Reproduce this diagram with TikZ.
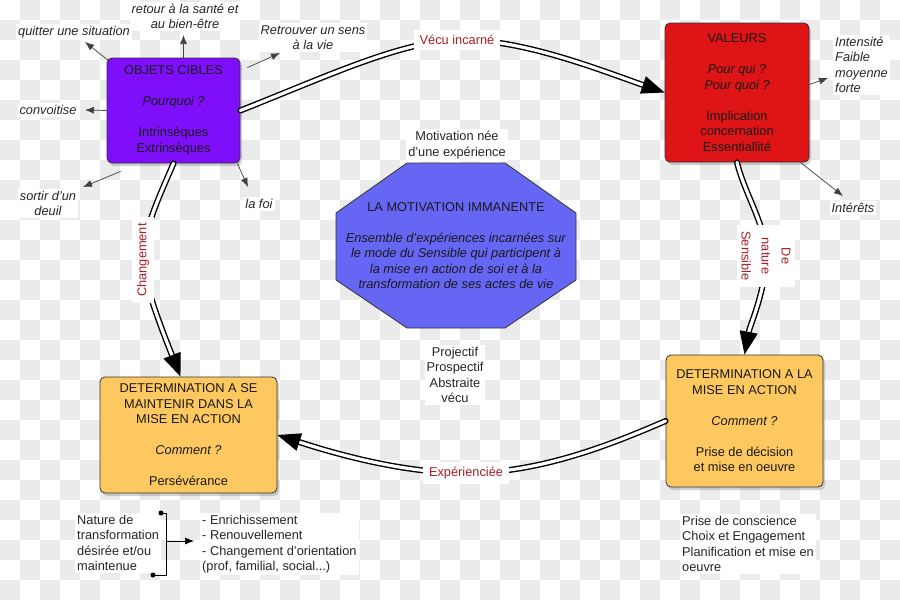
\documentclass[tikz,border=0pt]{standalone}
\usepackage{fontspec}
\setmainfont{Liberation Sans}
\usetikzlibrary{arrows.meta,calc,shadows}
\definecolor{violetbox}{RGB}{127,15,250}
\definecolor{redbox}{RGB}{222,20,22}
\definecolor{orangebox}{RGB}{254,200,96}
\definecolor{octblue}{RGB}{102,102,245}
\definecolor{labred}{RGB}{170,30,40}
\definecolor{checker}{RGB}{235,235,235}
\tikzset{
  fs/.style={font=\fontsize{12.8}{15.5}\selectfont},
  box/.style={draw=black!80, line width=0.8pt, rounded corners=5pt, align=center, fs, text=black!90,
    drop shadow={shadow xshift=2pt,shadow yshift=-3pt,opacity=0.35}},
  lbl/.style={fill=white, inner sep=2pt, align=center, fs, text=black!85},
  ital/.style={lbl, font=\fontsize{12.8}{15.5}\selectfont\itshape},
  dbl/.style={draw=black, line width=1.4pt, double=white, double distance=3.2pt, line cap=round},
  dbltip/.style={dbl, -{Triangle[length=23pt,width=18pt]}},
  thinarrow/.style={draw=black!75, line width=0.7pt, -{Latex[length=9pt,width=7pt]}},
  clab/.style={fill=white, fs, text=labred, inner xsep=6pt, inner ysep=5pt, align=center},
  dot/.style={circle, fill=black, inner sep=0pt, minimum size=5pt},
  brk/.style={draw=black, line width=1pt}
}
\begin{document}
\begin{tikzpicture}[x=1pt,y=-1pt]
\useasboundingbox (0,0) rectangle (900,600);
\fill[white] (0,0) rectangle (900,600);
% checkerboard background
\foreach \j in {0,...,29}{
  \pgfmathtruncatemacro\st{mod(\j+1,2)}
  \pgfmathtruncatemacro\stt{\st+2}
  \foreach \i in {\st,\stt,...,44}{
    \fill[checker] (\i*20,\j*20) rectangle ++(20,20);
  }
}
% boxes
\node[box, fill=violetbox, minimum width=133pt, minimum height=105pt] (obj) at (173.5,110.5)
  {OBJETS CIBLES\\[15.5pt]\textit{Pourquoi ?}\\[15.5pt]Intrinsèques\\Extrinsèques};
\node[box, fill=redbox, minimum width=144pt, minimum height=139pt] (val) at (737,92.5)
  {VALEURS\\[15.5pt]\textit{Pour qui ?}\\\textit{Pour quoi ?}\\[15.5pt]Implication\\concernation\\Essentiallité};
\node[box, fill=orangebox, minimum width=177pt, minimum height=116pt] (lbox) at (188.5,435)
  {DETERMINATION A SE\\MAINTENIR DANS LA\\MISE EN ACTION\\[15.5pt]\textit{Comment ?}\\[15.5pt]Persévérance};
\node[box, fill=orangebox, minimum width=157pt, minimum height=132pt] (rbox) at (744.5,421)
  {DETERMINATION A LA\\MISE EN ACTION\\[15.5pt]\textit{Comment ?}\\[15.5pt]Prise de décision\\et mise en oeuvre};
% octagon
\draw[fill=octblue, draw=black!80, line width=0.8pt]
  (407,163) -- (505,163) -- (576,213) -- (576,280) -- (505,328) -- (407,328) -- (336,280) -- (336,213) -- cycle;
\node[align=center, fs, text=black!90] (oct) at (456,245.5)
  {LA MOTIVATION IMMANENTE\\[15.5pt]\textit{Ensemble d'expériences incarnées sur}\\\textit{le mode du Sensible qui participent à}\\\textit{la mise en action de soi et à la}\\\textit{transformation de ses actes de vie}};
\node[lbl] (motiv) at (457,145) {Motivation née\\d'une expérience};
\node[lbl] (proj) at (455,375) {Projectif\\Prospectif\\Abstraite\\vécu};
% main connectors
\coordinate (vc1) at (457,40);
\coordinate (vc2) at (766,256);
\coordinate (vc3) at (466,473);
\coordinate (vc4) at (143,260);
\draw[dbltip] (obj.east) .. controls (330,75) and (400,42) .. (vc1) .. controls (520,38) and (600,70) .. (val.west);
\draw[dbltip] (val.south) .. controls (745,195) and (766,225) .. (vc2) .. controls (766,290) and (750,325) .. (rbox.north);
\draw[dbltip] (rbox.west) .. controls (610,445) and (540,473) .. (vc3) .. controls (400,473) and (330,452) .. (lbox.east);
\draw[dbltip] (obj.south) .. controls (160,195) and (143,230) .. (vc4) .. controls (143,280) and (160,325) .. ($(lbox.north)+(-8,0)$);
\node[clab] (vecu) at (vc1) {Vécu incarné};
\node[clab, rotate=-90] (nat) at (vc2) {De\\[4.5pt]nature\\[4.5pt]Sensible};
\node[clab] (exp) at (vc3) {Expérienciée};
\node[clab, rotate=90] (chg) at (vc4) {Changement};
% labels around OBJETS CIBLES
\node[ital] (quit) at (74,32) {quitter une situation};
\node[ital] (sante) at (185,16.5) {retour à la santé et\\au bien-être};
\node[ital] (sens) at (313,37.5) {Retrouver un sens\\à la vie};
\node[ital] (conv) at (48,110) {convoitise};
\node[ital] (deuil) at (48,203.5) {sortir d'un\\deuil};
\node[ital] (foi) at (259,204) {la foi};
\coordinate (q1) at (85,42);
\coordinate (q2) at (183.5,35);
\coordinate (q3) at (280,53);
\coordinate (q4) at (85,110);
\coordinate (q5) at (83,187);
\coordinate (q6) at (248,187);
\draw[thinarrow] ($(obj.north west)+(2,3)$) -- (q1);
\draw[thinarrow] ($(obj.north)+(10,0)$) -- (q2);
\draw[thinarrow] ($(obj.north east)+(7,10)$) -- (q3);
\draw[thinarrow] (obj.west) -- (q4);
\draw[thinarrow] ($(obj.south west)+(14,8)$) -- (q5);
\draw[thinarrow] ($(obj.south east)+(-3,0)$) -- (q6);
% labels around VALEURS
\node[ital, align=left, anchor=west] (intens) at (833,65) {Intensité\\Faible\\moyenne\\forte};
\node[ital] (inter) at (853,208) {Intérêts};
\coordinate (q7) at (828,78);
\coordinate (q8) at (843,196);
\draw[thinarrow] ($(val.east)+(0,-8)$) -- (q7);
\draw[thinarrow] ($(val.south east)+(-9,0)$) -- (q8);
% bottom annotations
\node[lbl, align=left, anchor=west] (nature) at (75,543) {Nature de\\transformation\\désirée et/ou\\maintenue};
\node[lbl, align=left, anchor=west] (lst) at (200,544) {- Enrichissement\\- Renouvellement\\- Changement d'orientation\\(prof, familial, social...)};
\node[lbl, align=left, anchor=west] (prise) at (680,544) {Prise de conscience\\Choix et Engagement\\Planification et mise en\\oeuvre};
\node[dot] (d1) at (161,513) {};
\node[dot] (d2) at (153,575) {};
\draw[brk] (d1.center) -- ++(5,0) |- (d2.center);
\coordinate (bm) at (166,541);
\coordinate (ba) at (194,541);
\draw[thinarrow, draw=black] (bm) -- (ba);
\end{tikzpicture}
\end{document}
